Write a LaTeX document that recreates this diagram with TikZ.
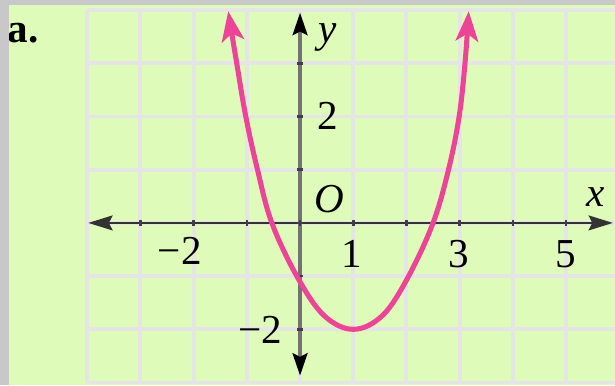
\documentclass[tikz,border=0pt]{standalone}
\usepackage{fontspec}
\setmainfont{Liberation Serif}
\usetikzlibrary{arrows.meta}

\definecolor{paper}{RGB}{223,251,185}
\definecolor{frame}{RGB}{200,200,200}
\definecolor{gridline}{RGB}{229,229,229}
\definecolor{curvepink}{RGB}{238,68,152}

\begin{document}
\begin{tikzpicture}[
    font=\fontsize{22}{26}\selectfont,
    gridlines/.style={
        gridline,
        line width=2.1pt
    },
    xaxis/.style={
        black!80,
        line width=1.1pt,
        {Stealth[length=13pt, width=8pt, inset=2pt]}-{Stealth[length=13pt, width=8pt, inset=2pt]}
    },
    yaxis/.style={
        black!55,
        line width=1.8pt,
        {Stealth[length=12pt, width=8pt, inset=2pt, color=black]}-{Stealth[length=12pt, width=8pt, inset=2pt, color=black]}
    },
    tick/.style={black!75, line width=1.4pt},
    parabola/.style={
        curvepink,
        line width=2.7pt,
        {Stealth[length=16pt, width=12pt, inset=4pt]}-{Stealth[length=16pt, width=12pt, inset=4pt]}
    },
    lbl/.style={inner sep=0pt, anchor=base}
]
    \useasboundingbox (-5.64,-3.05) rectangle (5.92,4.19);
    \fill[paper] (-5.64,-3.05) rectangle (5.92,4.19);

    % grid and axes
    \draw[gridlines] (-4,-3) grid (6,4);
    \coordinate (xstart) at (-3.98,0);
    \coordinate (xend) at (5.88,0);
    \coordinate (ystart) at (0,-2.87);
    \coordinate (yend) at (0,3.95);
    \draw[xaxis] (xstart) -- (xend);
    \draw[yaxis] (ystart) -- (yend);
    \foreach \i in {-3,...,5}
        \draw[tick] (\i,-0.05) -- (\i,0.05);
    \foreach \j in {-2,...,3}
        \draw[tick] (-0.05,\j) -- (0.05,\j);

    % the curve
    \draw[parabola] plot[smooth, tension=0.6] coordinates {
        (-1.35,3.98) (-1.19,3) (-1.02,2) (-0.80,1) (-0.53,0) (-0.05,-1.02)
        (0.45,-1.74) (1,-2) (1.55,-1.74) (2.03,-1.02) (2.50,0) (2.79,1)
        (2.99,2) (3.10,3) (3.17,3.98)
    };

    % labels
    \node[lbl] (ylabel) at (0.51,3.40) {\textit{y}};
    \node[lbl] (xlabel) at (5.55,0.30) {\textit{x}};
    \node[lbl] (origin) at (0.56,0.19) {\textit{O}};
    \node[lbl] (ytwo) at (0.53,1.75) {2};
    \node[lbl] (yminustwo) at (-0.75,-2.26) {−2};
    \node[lbl] (xminustwo) at (-2.26,-0.79) {−2};
    \node[lbl] (xone) at (0.97,-0.83) {1};
    \node[lbl] (xthree) at (2.98,-0.83) {3};
    \node[lbl] (xfive) at (5.0,-0.83) {5};
    \node[inner sep=0pt, anchor=base west] (part) at (-5.50,3.40) {\textbf{a.}};

    % page frame
    \fill[frame] (-5.64,-3.05) rectangle (-5.47,4.19);
    \fill[frame] (-5.64,4.095) rectangle (5.92,4.19);
\end{tikzpicture}
\end{document}
